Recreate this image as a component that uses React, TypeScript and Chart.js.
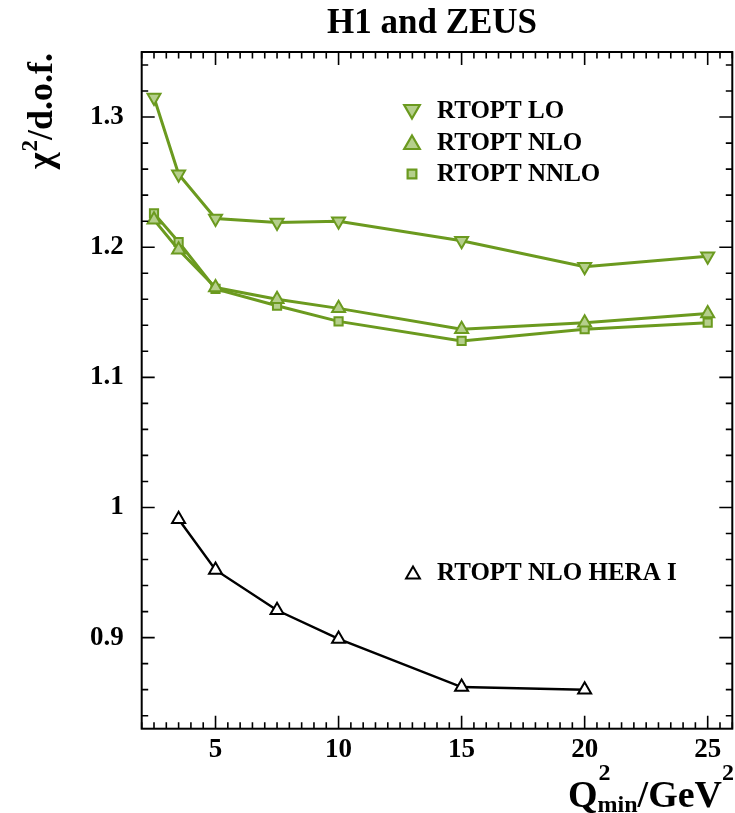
import React, { useEffect, useRef } from 'react';
import { Chart, registerables } from 'chart.js';
Chart.register(...registerables);

const FONT = "'Liberation Serif', 'Times New Roman', Times, serif";
const GREEN = '#6b9a1f';
const GREEN_FILL = '#b5cf8c';

// ---- data ----
const qMin = [2.5, 3.5, 5, 7.5, 10, 15, 20, 25];
const rtoptLO = [1.315, 1.256, 1.222, 1.219, 1.22, 1.205, 1.185, 1.193];
const rtoptNLO = [1.221, 1.198, 1.169, 1.16, 1.153, 1.137, 1.142, 1.149];
const rtoptNNLO = [1.226, 1.204, 1.168, 1.155, 1.143, 1.128, 1.137, 1.142];
const qMinHera1 = [3.5, 5, 7.5, 10, 15, 20];
const rtoptNLOHera1 = [0.991, 0.952, 0.921, 0.899, 0.862, 0.86];
const xTickValues = [5, 10, 15, 20, 25];
const yTickValues = [0.9, 1.0, 1.1, 1.2, 1.3];
const legendLabels = ['RTOPT LO', 'RTOPT NLO', 'RTOPT NNLO'];
const legendLabelHera = 'RTOPT NLO HERA I';

const toPts = (xs: number[], ys: number[]) => xs.map((x, i) => ({ x, y: ys[i] }));

function markerPath(ctx: CanvasRenderingContext2D, kind: string, x: number, y: number, r: number) {
  ctx.beginPath();
  if (kind === 'up') {
    ctx.moveTo(x, y - r);
    ctx.lineTo(x + 0.866 * r, y + 0.5 * r);
    ctx.lineTo(x - 0.866 * r, y + 0.5 * r);
    ctx.closePath();
  } else if (kind === 'down') {
    ctx.moveTo(x, y + r);
    ctx.lineTo(x + 0.866 * r, y - 0.5 * r);
    ctx.lineTo(x - 0.866 * r, y - 0.5 * r);
    ctx.closePath();
  } else {
    const s = r * Math.SQRT1_2;
    ctx.rect(x - s, y - s, 2 * s, 2 * s);
  }
}

const decorPlugin = {
  id: 'decor',
  afterDraw(chart: any) {
    const { ctx, chartArea: a, scales } = chart;
    const xs = scales.x;
    const ys = scales.y;
    ctx.save();
    // frame
    ctx.strokeStyle = '#000';
    ctx.lineWidth = 2;
    ctx.strokeRect(a.left, a.top, a.right - a.left, a.bottom - a.top);
    // ticks
    ctx.lineWidth = 1.6;
    ctx.beginPath();
    for (let i = 0; ; i++) {
      const v = xs.min + i * 0.5;
      if (v > xs.max + 1e-9) break;
      const major = Math.abs(v / 5 - Math.round(v / 5)) < 1e-6;
      const len = major ? 13 : 6.5;
      const px = xs.getPixelForValue(v);
      ctx.moveTo(px, a.bottom);
      ctx.lineTo(px, a.bottom - len);
      ctx.moveTo(px, a.top);
      ctx.lineTo(px, a.top + len);
    }
    for (let i = 0; ; i++) {
      const v = 0.84 + i * 0.02;
      if (v > ys.max + 1e-9) break;
      const major = Math.abs(v * 10 - Math.round(v * 10)) < 1e-6;
      const len = major ? 13 : 6.5;
      const py = ys.getPixelForValue(v);
      ctx.moveTo(a.left, py);
      ctx.lineTo(a.left + len, py);
      ctx.moveTo(a.right, py);
      ctx.lineTo(a.right - len, py);
    }
    ctx.stroke();

    // title
    ctx.fillStyle = '#000';
    ctx.textBaseline = 'alphabetic';
    ctx.textAlign = 'left';
    ctx.font = `bold 35px ${FONT}`;
    ctx.fillText('H1 and ZEUS', 327, 33);

    // legend (green)
    const kinds = ['down', 'up', 'rect'];
    const rows = [111, 143, 174];
    ctx.font = `bold 25px ${FONT}`;
    ctx.textBaseline = 'middle';
    legendLabels.forEach((lab, i) => {
      const r = kinds[i] === 'rect' ? 6.2 : 9;
      const cy = kinds[i] === 'up' ? rows[i] + 1.5 : kinds[i] === 'down' ? rows[i] - 1.5 : rows[i];
      markerPath(ctx, kinds[i], 412, cy, r);
      ctx.fillStyle = GREEN_FILL;
      ctx.fill();
      ctx.strokeStyle = GREEN;
      ctx.lineWidth = 2.2;
      ctx.stroke();
      ctx.fillStyle = '#000';
      ctx.fillText(lab, 437, rows[i] + 1);
    });
    // legend HERA I
    markerPath(ctx, 'up', 413, 574.5, 8);
    ctx.fillStyle = '#fff';
    ctx.fill();
    ctx.strokeStyle = '#000';
    ctx.lineWidth = 2;
    ctx.stroke();
    ctx.fillStyle = '#000';
    ctx.fillText(legendLabelHera, 437, 574);

    // x axis title: Q^2_min/GeV^2
    ctx.textBaseline = 'alphabetic';
    const big = `bold 38px ${FONT}`;
    const small = `bold 24px ${FONT}`;
    ctx.font = big;
    const wQ = ctx.measureText('Q').width;
    const wG = ctx.measureText('/GeV').width;
    ctx.font = small;
    const w2 = ctx.measureText('2').width;
    const wMin = ctx.measureText('min').width;
    const total = wQ + Math.max(w2, wMin) + wG + w2;
    const base = 807;
    let x = 734 - total;
    ctx.font = big;
    ctx.fillText('Q', x, base);
    x += wQ;
    ctx.font = small;
    ctx.fillText('2', x + 1, base - 27);
    ctx.fillText('min', x, base + 5);
    x += Math.max(w2, wMin);
    ctx.font = big;
    ctx.fillText('/GeV', x, base);
    x += wG;
    ctx.font = small;
    ctx.fillText('2', x, base - 27);

    // y axis title: chi^2/d.o.f. rotated
    ctx.save();
    ctx.translate(52, 53);
    ctx.rotate(-Math.PI / 2);
    const yb = `bold 36px ${FONT}`;
    const ys2 = `bold 23px ${FONT}`;
    ctx.font = yb;
    const wChi = ctx.measureText('χ').width;
    const wRest = ctx.measureText('/d.o.f.').width;
    ctx.font = ys2;
    const wS = ctx.measureText('2').width;
    const tot = wChi + wS + 1 + wRest;
    let lx = -tot;
    ctx.font = yb;
    ctx.fillText('χ', lx, 0);
    lx += wChi;
    ctx.font = ys2;
    ctx.fillText('2', lx + 1, -15);
    lx += wS + 1;
    ctx.font = yb;
    ctx.fillText('/d.o.f.', lx, 0);
    ctx.restore();

    ctx.restore();
  },
};

export default function App() {
  const ref = useRef<HTMLCanvasElement>(null);
  useEffect(() => {
    if (!ref.current) return;
    const tickFont = { family: FONT, size: 27, weight: 'bold' as const };
    const chart = new Chart(ref.current, {
      type: 'line',
      data: {
        datasets: [
          {
            label: legendLabels[0],
            data: toPts(qMin, rtoptLO),
            borderColor: GREEN,
            backgroundColor: GREEN_FILL,
            borderWidth: 3,
            pointStyle: 'triangle',
            pointRotation: 180,
            pointRadius: 7.5,
            pointBorderWidth: 2,
            pointBackgroundColor: GREEN_FILL,
            pointBorderColor: GREEN,
            tension: 0,
          },
          {
            label: legendLabels[1],
            data: toPts(qMin, rtoptNLO),
            borderColor: GREEN,
            backgroundColor: GREEN_FILL,
            borderWidth: 3,
            pointStyle: 'triangle',
            pointRadius: 7.5,
            pointBorderWidth: 2,
            pointBackgroundColor: GREEN_FILL,
            pointBorderColor: GREEN,
            tension: 0,
          },
          {
            label: legendLabels[2],
            data: toPts(qMin, rtoptNNLO),
            borderColor: GREEN,
            backgroundColor: GREEN_FILL,
            borderWidth: 3,
            pointStyle: 'rect',
            pointRadius: 5.8,
            pointBorderWidth: 2,
            pointBackgroundColor: GREEN_FILL,
            pointBorderColor: GREEN,
            tension: 0,
          },
          {
            label: legendLabelHera,
            data: toPts(qMinHera1, rtoptNLOHera1),
            borderColor: '#000',
            backgroundColor: '#fff',
            borderWidth: 2.5,
            pointStyle: 'triangle',
            pointRadius: 7.5,
            pointBorderWidth: 2,
            pointBackgroundColor: '#fff',
            pointBorderColor: '#000',
            tension: 0,
          },
        ],
      },
      options: {
        animation: false,
        responsive: false,
        events: [],
        layout: { autoPadding: false, padding: { top: 52, right: 2.7, left: 0, bottom: 0 } },
        plugins: { legend: { display: false }, tooltip: { enabled: false }, title: { display: false } },
        scales: {
          x: {
            type: 'linear',
            min: 2,
            max: 26,
            grid: { display: false, drawTicks: false },
            border: { display: false },
            afterBuildTicks: (s: any) => {
              s.ticks = xTickValues.map((v) => ({ value: v }));
            },
            afterFit: (s: any) => {
              s.height = 84.3;
              s.paddingLeft = 0;
              s.paddingRight = 0;
            },
            ticks: {
              font: tickFont,
              color: '#000',
              padding: 5,
              maxRotation: 0,
              autoSkip: false,
              callback: (v: any) => String(v),
            },
          },
          y: {
            type: 'linear',
            min: 0.83,
            max: 1.35,
            grid: { display: false, drawTicks: false },
            border: { display: false },
            afterBuildTicks: (s: any) => {
              s.ticks = yTickValues.map((v) => ({ value: v }));
            },
            afterFit: (s: any) => {
              s.width = 141.7;
              s.paddingTop = 0;
              s.paddingBottom = 0;
            },
            ticks: {
              font: tickFont,
              color: '#000',
              padding: 18,
              autoSkip: false,
              callback: (v: any) => String(Math.round(Number(v) * 10) / 10),
            },
          },
        },
      },
      plugins: [decorPlugin],
    });
    return () => chart.destroy();
  }, []);
  return (
    <div style={{ position: 'fixed', left: 0, top: 0, width: 735, height: 813, background: '#fff' }}>
      <canvas ref={ref} width={735} height={813} style={{ display: 'block' }} />
    </div>
  );
}
